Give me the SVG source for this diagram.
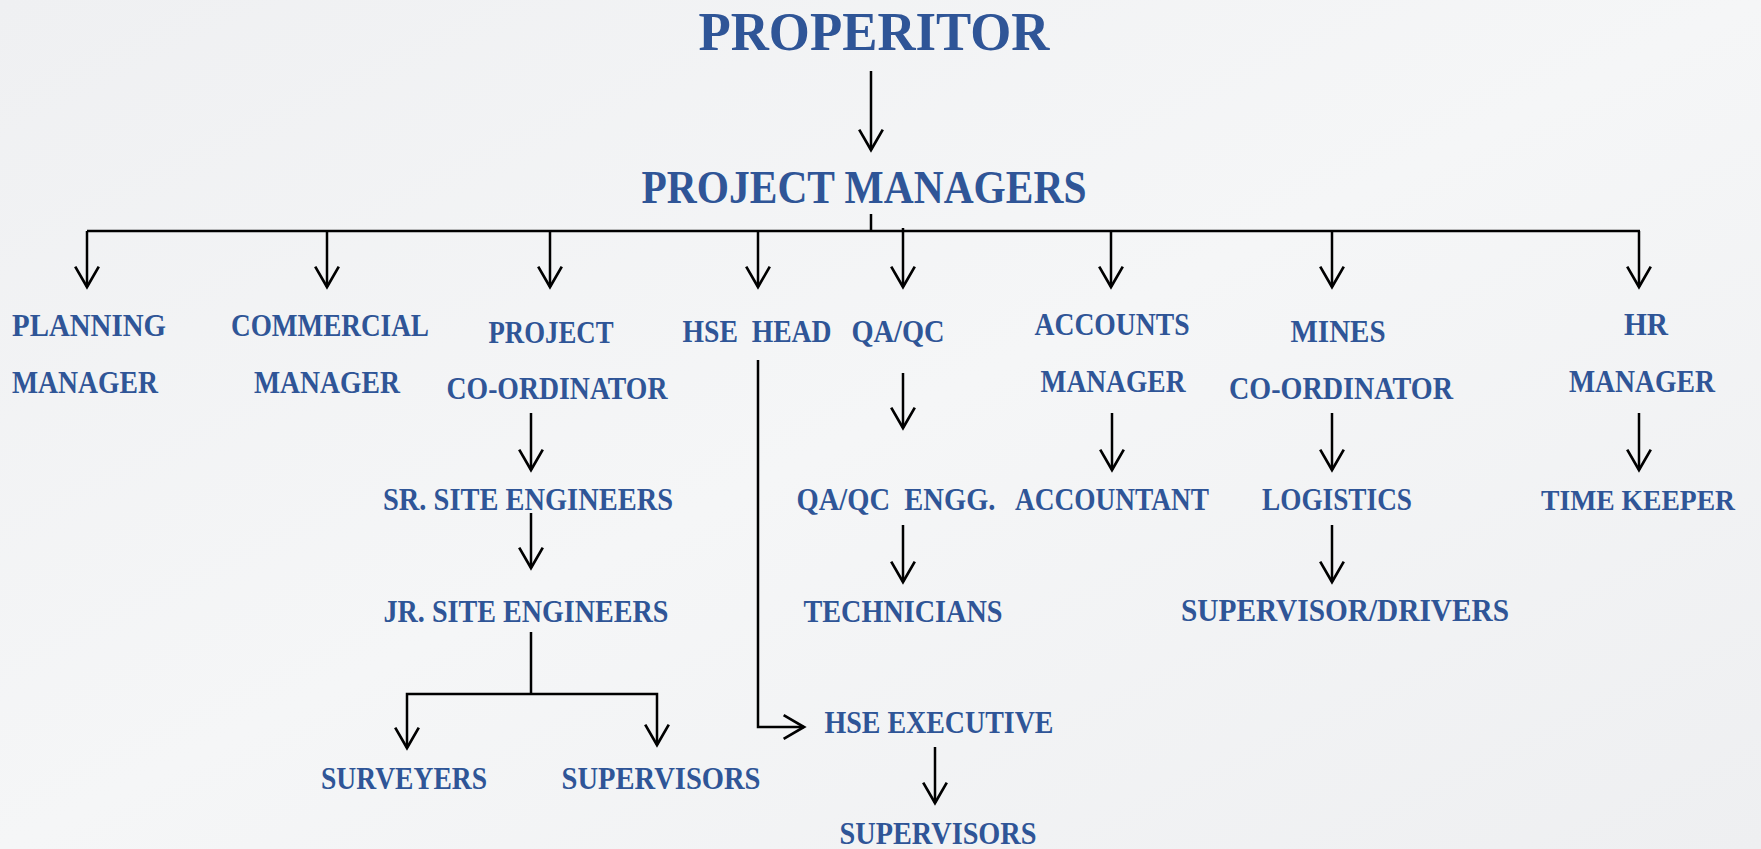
<svg xmlns="http://www.w3.org/2000/svg" width="1761" height="849" viewBox="0 0 1761 849">
<defs>
<style>
text{font-family:"Liberation Serif","DejaVu Serif",serif;font-weight:bold;fill:#2f5597;text-anchor:middle;font-size:32px}
.t1{font-size:54px}
.t2{font-size:47px}
.c path{fill:none;stroke:#000;stroke-width:2.5}
.a{marker-end:url(#ah)}
</style>
<marker id="ah" markerUnits="userSpaceOnUse" markerWidth="30" markerHeight="30" viewBox="-22 -14 26 28" refX="0" refY="0" orient="auto" overflow="visible">
<path d="M-19,-11 L0,0 L-19,11" fill="none" stroke="#000" stroke-width="2.5"/>
</marker>
<linearGradient id="bg" x1="0" y1="0" x2="1" y2="1">
<stop offset="0" stop-color="#eff0f2"/>
<stop offset="0.5" stop-color="#f5f6f7"/>
<stop offset="1" stop-color="#eeeff1"/>
</linearGradient>
</defs>
<rect width="1761" height="849" fill="url(#bg)"/>
<g class="c" id="connectors">
<path class="a" d="M871,71 V150"/>
<path d="M871,214 V231"/>
<path d="M87,231 H1640"/>
<path class="a" d="M87,231 V287"/>
<path class="a" d="M327,231 V287"/>
<path class="a" d="M550,231 V287"/>
<path class="a" d="M758,231 V287"/>
<path class="a" d="M903,228 V287"/>
<path class="a" d="M1111,231 V287"/>
<path class="a" d="M1332,231 V287"/>
<path class="a" d="M1639,231 V287"/>
<path class="a" d="M531,413 V470"/>
<path class="a" d="M531,513 V568"/>
<path d="M531,632 V694"/>
<path class="a" d="M531,694 H407 V748"/>
<path class="a" d="M531,694 H657 V745"/>
<path class="a" d="M758,360 V727 H804"/>
<path class="a" d="M935,747 V803"/>
<path class="a" d="M903,373 V428"/>
<path class="a" d="M903,525 V582"/>
<path class="a" d="M1112,413 V470"/>
<path class="a" d="M1332,413 V470"/>
<path class="a" d="M1332,525 V582"/>
<path class="a" d="M1639,413 V470"/>
</g>
<g id="proprietor"><text class="t1" x="874" y="50" textLength="351" lengthAdjust="spacingAndGlyphs">PROPERITOR</text></g>
<g id="project-managers"><text class="t2" x="864" y="203" textLength="445" lengthAdjust="spacingAndGlyphs">PROJECT MANAGERS</text></g>
<g id="planning-manager"><text x="89" y="336" textLength="154" lengthAdjust="spacingAndGlyphs">PLANNING</text><text x="85" y="393" textLength="146" lengthAdjust="spacingAndGlyphs">MANAGER</text></g>
<g id="commercial-manager"><text x="330" y="336" textLength="198" lengthAdjust="spacingAndGlyphs">COMMERCIAL</text><text x="327" y="393" textLength="146" lengthAdjust="spacingAndGlyphs">MANAGER</text></g>
<g id="project-coordinator"><text x="551" y="343" textLength="125" lengthAdjust="spacingAndGlyphs">PROJECT</text><text x="557" y="399" textLength="221" lengthAdjust="spacingAndGlyphs">CO-ORDINATOR</text></g>
<g id="hse-head"><text x="757" y="342" textLength="149" lengthAdjust="spacingAndGlyphs" xml:space="preserve">HSE  HEAD</text></g>
<g id="qaqc"><text x="898" y="342" textLength="93" lengthAdjust="spacingAndGlyphs">QA/QC</text></g>
<g id="accounts-manager"><text x="1112" y="335" textLength="155" lengthAdjust="spacingAndGlyphs">ACCOUNTS</text><text x="1113" y="392" textLength="145" lengthAdjust="spacingAndGlyphs">MANAGER</text></g>
<g id="mines-coordinator"><text x="1338" y="342" textLength="95" lengthAdjust="spacingAndGlyphs">MINES</text><text x="1341" y="399" textLength="224" lengthAdjust="spacingAndGlyphs">CO-ORDINATOR</text></g>
<g id="hr-manager"><text x="1646" y="335" textLength="44" lengthAdjust="spacingAndGlyphs">HR</text><text x="1642" y="392" textLength="146" lengthAdjust="spacingAndGlyphs">MANAGER</text></g>
<g id="sr-site-engineers"><text x="528" y="510" textLength="290" lengthAdjust="spacingAndGlyphs">SR. SITE ENGINEERS</text></g>
<g id="jr-site-engineers"><text x="526" y="622" textLength="285" lengthAdjust="spacingAndGlyphs">JR. SITE ENGINEERS</text></g>
<g id="surveyers"><text x="404" y="789" textLength="166" lengthAdjust="spacingAndGlyphs">SURVEYERS</text></g>
<g id="supervisors-1"><text x="661" y="789" textLength="199" lengthAdjust="spacingAndGlyphs">SUPERVISORS</text></g>
<g id="hse-executive"><text x="939" y="733" textLength="229" lengthAdjust="spacingAndGlyphs">HSE EXECUTIVE</text></g>
<g id="supervisors-2"><text x="938" y="844" textLength="197" lengthAdjust="spacingAndGlyphs">SUPERVISORS</text></g>
<g id="qaqc-engg"><text x="896" y="510" textLength="199" lengthAdjust="spacingAndGlyphs" xml:space="preserve">QA/QC  ENGG.</text></g>
<g id="technicians"><text x="903" y="622" textLength="199" lengthAdjust="spacingAndGlyphs">TECHNICIANS</text></g>
<g id="accountant"><text x="1112" y="510" textLength="194" lengthAdjust="spacingAndGlyphs">ACCOUNTANT</text></g>
<g id="logistics"><text x="1337" y="510" textLength="150" lengthAdjust="spacingAndGlyphs">LOGISTICS</text></g>
<g id="supervisor-drivers"><text x="1345" y="621" textLength="328" lengthAdjust="spacingAndGlyphs">SUPERVISOR/DRIVERS</text></g>
<g id="time-keeper"><text x="1638" y="510" style="font-size:30px" textLength="194" lengthAdjust="spacingAndGlyphs">TIME KEEPER</text></g>
</svg>
